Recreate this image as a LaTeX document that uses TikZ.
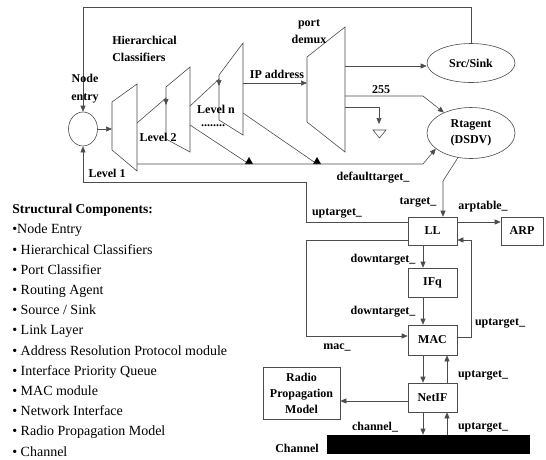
\documentclass[tikz,border=0pt]{standalone}
\usepackage{fontspec}
\setmainfont{Liberation Serif}
\usetikzlibrary{arrows.meta,shapes.geometric}
\begin{document}
\begin{tikzpicture}[x=1pt,y=-1pt,
  line width=0.6pt, draw=black!70,
  arr/.style={-{Triangle[length=6pt,width=5pt]}},
  lbl/.style={font=\bfseries\fontsize{12}{17}\selectfont, inner sep=0pt, align=center},
  box/.style={draw, minimum width=49pt, minimum height=29pt, inner sep=0pt, font=\bfseries\fontsize{12}{14}\selectfont},
  ell/.style={draw, ellipse, inner sep=0pt, font=\bfseries\fontsize{12}{16}\selectfont, align=center}]
\useasboundingbox (0,0) rectangle (546,459);
\fill[white] (0,0) rectangle (546,459);

% nodes
\node[ell, minimum width=29pt, minimum height=34pt] (ne) at (83,129) {};
\node[ell, minimum width=88pt, minimum height=39pt] (src) at (471,63) {Src/Sink};
\node[ell, minimum width=88pt, minimum height=51pt] (rt) at (471,133) {Rtagent\\(DSDV)};
\node[box, minimum height=28pt] (LL) at (432.5,231) {LL};
\node[box, minimum width=42pt, minimum height=28pt] (ARP) at (522,231) {ARP};
\node[box] (IFq) at (432.5,282.5) {IFq};
\node[box, minimum height=30pt] (MAC) at (432.5,340) {MAC};
\node[box] (NetIF) at (432.5,397.5) {NetIF};
\node[box, minimum width=77pt, minimum height=52pt, align=center, font=\bfseries\fontsize{12}{16}\selectfont] (radio) at (301.5,393) {Radio\\Propagation\\Model};
\node[draw=black, fill=black, minimum width=202pt, minimum height=18pt, inner sep=0pt] (chan) at (428,444) {};

% classifiers
\draw (112,102) -- (137,84) -- (137,171) -- (112,150) -- cycle;
\draw (166,87) -- (190,67) -- (190,152) -- (166,139) -- cycle;
\draw (219,75) -- (243,43) -- (243,135) -- (219,120) -- cycle;
\draw (307,57) -- (345,27) -- (345,152) -- (307,122) -- cycle;
\coordinate (c1in) at (112,129);
\coordinate (demuxin) at (307,83);

% outer frame
\draw[arr] (src.north) |- (83,7) -- (ne.north);
\draw[arr] ([yshift=9pt]LL.west) -- (306,222) -- (306,182) -- (83,182) -- (ne.south);

% classifier chain
\draw[arr] (ne.east) -- (c1in);
\draw[arr] (137,123) -- (166,98) -- (166,105);
\draw[arr] (190,106) -- (219,79) -- (219,86);
\draw[arr] (243,83) -- (demuxin);
\draw (190,125) -- (249,164);
\fill (245,164) -- (253,164) -- (249,157) -- cycle;
\draw (243,113) -- (317,164);
\fill (313,164) -- (321,164) -- (317,157) -- cycle;
\draw[arr] (137,164) -- (423,164) -- (rt.204);

% demux outputs
\draw[arr] (345,66) -- ([yshift=-3pt]src.west);
\draw[arr] (345,96) -- (423,96) -- (rt.143);
\draw[arr] (345,107) -- (379,107) -- (379,124);
\draw (373,130) -- (386,130) -- (379.5,138) -- cycle;

% Rtagent -> LL
\draw[arr] (rt.242) -- (443,181) -- ([xshift=10.5pt]LL.north);
\draw[arr] ([yshift=9pt]LL.east) -- ([yshift=9pt]ARP.west);

% LL / IFq / MAC / NetIF stack
\draw[arr] ([yshift=-9pt]LL.west) -- (306,240) -- (306,336) -- ([yshift=4pt]MAC.west);
\draw[arr] ([yshift=3pt]MAC.east) -- (471,337) -- (471,240) -- ([yshift=-9pt]LL.east);
\draw[arr] ([xshift=-9.5pt]LL.south) -- ([xshift=-9.5pt]IFq.north);
\draw[arr] ([xshift=-9.5pt]IFq.south) -- ([xshift=-9.5pt]MAC.north);
\draw[arr] ([xshift=-9.5pt]MAC.south) -- ([xshift=-9.5pt]NetIF.north);
\draw[arr] ([xshift=14.5pt]NetIF.north) -- ([xshift=14.5pt]MAC.south);
\draw[arr] ([yshift=-3.5pt]NetIF.west) -- (radio.east |- 0,401);
\draw[arr] ([xshift=-9.5pt]NetIF.south) -- ([xshift=-9.5pt]NetIF.south |- chan.north);
\draw[arr] ([xshift=14.5pt]NetIF.south |- chan.north) -- ([xshift=14.5pt]NetIF.south);

% labels
\node[lbl, align=left, anchor=west] (hc) at (112,48.5) {Hierarchical\\Classifiers};
\node[lbl, font=\bfseries\fontsize{12}{18}\selectfont] (nel) at (85,89) {Node\\entry};
\node[lbl] (l1) at (107,173) {Level 1};
\node[lbl] (l2) at (158,137) {Level 2};
\node[lbl] (ln) at (216,109) {Level n};
\node[lbl] (dots) at (213,126) {........};
\node[lbl] (ip) at (277,74) {IP address};
\node[lbl] (pd) at (309,31.5) {port\\demux};
\node[lbl] (l255) at (381,90) {255};
\node[lbl] (dt) at (373,178) {defaulttarget\_};
\node[lbl] (tg) at (418,202) {target\_};
\node[lbl] (ut1) at (337,213) {uptarget\_};
\node[lbl] (apt) at (483,207) {arptable\_};
\node[lbl] (dn1) at (383,260) {downtarget\_};
\node[lbl] (dn2) at (383,312) {downtarget\_};
\node[lbl] (ut2) at (500,323) {uptarget\_};
\node[lbl] (macl) at (337,347) {mac\_};
\node[lbl] (ut3) at (483,375) {uptarget\_};
\node[lbl] (chl) at (375,427) {channel\_};
\node[lbl] (ut4) at (483,427) {uptarget\_};
\node[lbl] (chn) at (297,448) {Channel};

% component list
\node[anchor=north west, align=left, inner sep=0pt, font=\fontsize{14}{20.2}\selectfont] (list) at (12,204) {%
{\bfseries\fontsize{13.5}{20.2}\selectfont Structural Components:}\\
•Node Entry\\
• Hierarchical Classifiers\\
• Port Classifier\\
• Routing Agent\\
• Source / Sink\\
• Link Layer\\
• Address Resolution Protocol module\\
• Interface Priority Queue\\
• MAC module\\
• Network Interface\\
• Radio Propagation Model\\
• Channel};
\end{tikzpicture}
\end{document}
